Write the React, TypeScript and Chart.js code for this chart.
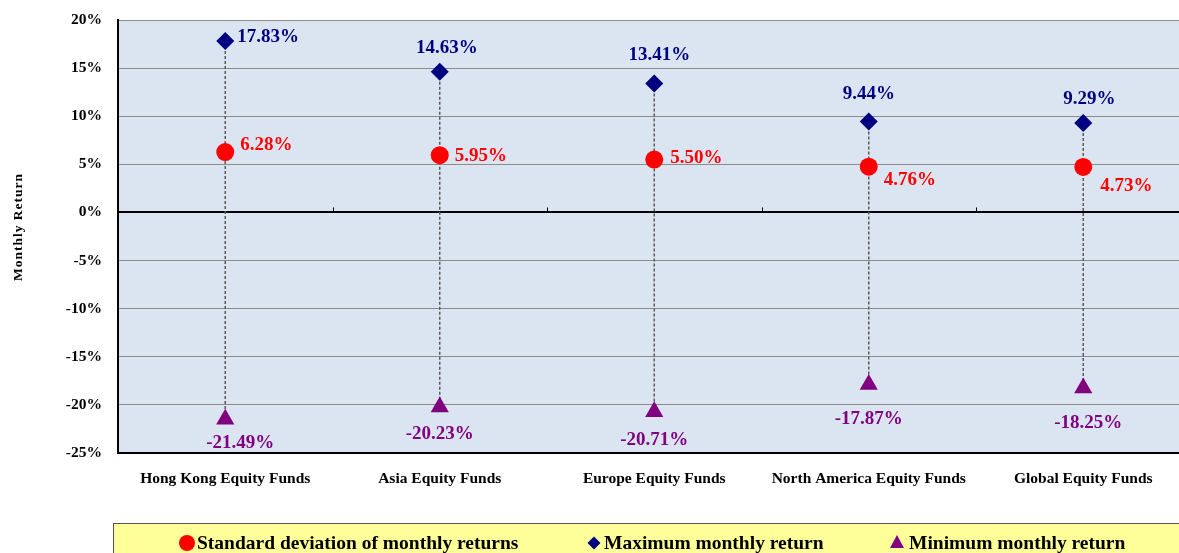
import React, { useEffect, useRef } from "react";
import { Chart, registerables } from "chart.js";

Chart.register(...registerables);

const categories = [
  "Hong Kong Equity Funds",
  "Asia Equity Funds",
  "Europe Equity Funds",
  "North America Equity Funds",
  "Global Equity Funds",
];
const stdDev = [6.28, 5.95, 5.5, 4.76, 4.73];
const maxReturn = [17.83, 14.63, 13.41, 9.44, 9.29];
const minReturn = [-21.49, -20.23, -20.71, -17.87, -18.25];
const yTicks = [-25, -20, -15, -10, -5, 0, 5, 10, 15, 20];

const seriesNames = [
  "Standard deviation of monthly returns",
  "Maximum monthly return",
  "Minimum monthly return",
];

const FONT = "'Liberation Serif', 'Times New Roman', serif";
const RED = "#ff0000";
const NAVY = "#000080";
const PURPLE = "#800080";
const PLOT_BG = "#dbe5f1";

// label placement (dx, dy, align) relative to marker pixel
const stdPlace: [number, number, CanvasTextAlign][] = [
  [15, -7, "left"],
  [15, 1, "left"],
  [16, -1, "left"],
  [15, 13, "left"],
  [17, 19, "left"],
];
const maxPlace: [number, number, CanvasTextAlign][] = [
  [12, -4, "left"],
  [7, -24, "center"],
  [5, -28, "center"],
  [0, -28, "center"],
  [6, -24, "center"],
];
const minPlace: [number, number, CanvasTextAlign][] = [
  [15, 24, "center"],
  [0, 27, "center"],
  [0, 28, "center"],
  [0, 35, "center"],
  [5, 35, "center"],
];

const fmt = (v: number) => v.toFixed(2) + "%";

export default function App() {
  const ref = useRef<HTMLCanvasElement | null>(null);

  useEffect(() => {
    document.body.style.margin = "0";
    document.body.style.overflow = "hidden";
    const canvas = ref.current!;

    const lineData: { x: number; y: number | null }[] = [];
    categories.forEach((_, i) => {
      lineData.push({ x: i, y: maxReturn[i] });
      lineData.push({ x: i, y: minReturn[i] });
      lineData.push({ x: i, y: null });
    });

    const decor = {
      id: "decor",
      beforeDraw(chart: any) {
        const { ctx, chartArea: a } = chart;
        ctx.save();
        ctx.fillStyle = "#ffffff";
        ctx.fillRect(0, 0, chart.width, chart.height);
        ctx.fillStyle = PLOT_BG;
        ctx.fillRect(a.left, a.top, a.right - a.left, a.bottom - a.top);
        ctx.restore();
      },
      afterDatasetsDraw(chart: any) {
        const { ctx } = chart;
        const xs = chart.scales.x;
        const ys = chart.scales.y;
        ctx.save();
        // category boundary ticks on zero line
        const y0 = ys.getPixelForValue(0);
        ctx.strokeStyle = "#000";
        ctx.lineWidth = 1;
        for (let i = 0; i < categories.length; i++) {
          const px = Math.round(xs.getPixelForValue(i + 0.5)) + 0.5;
          ctx.beginPath();
          ctx.moveTo(px, y0 - 5);
          ctx.lineTo(px, y0);
          ctx.stroke();
        }
        // data labels
        ctx.font = `bold 19px ${FONT}`;
        ctx.textBaseline = "middle";
        const drawLabels = (
          vals: number[],
          place: [number, number, CanvasTextAlign][],
          color: string
        ) => {
          ctx.fillStyle = color;
          vals.forEach((v, i) => {
            const px = xs.getPixelForValue(i);
            const py = ys.getPixelForValue(v);
            const [dx, dy, al] = place[i];
            ctx.textAlign = al;
            ctx.fillText(fmt(v), px + dx, py + dy);
          });
        };
        drawLabels(stdDev, stdPlace, RED);
        drawLabels(maxReturn, maxPlace, NAVY);
        drawLabels(minReturn, minPlace, PURPLE);

        // y axis title
        ctx.save();
        ctx.translate(19, 227);
        ctx.rotate(-Math.PI / 2);
        ctx.font = `bold 13.5px ${FONT}`;
        (ctx as any).letterSpacing = "1px";
        ctx.fillStyle = "#000";
        ctx.textAlign = "center";
        ctx.textBaseline = "middle";
        ctx.fillText("Monthly Return", 0, 0);
        ctx.restore();

        // legend box
        ctx.fillStyle = "#ffff99";
        ctx.fillRect(113.5, 523.5, 1200, 60);
        ctx.strokeStyle = "#555";
        ctx.lineWidth = 1;
        ctx.strokeRect(113.5, 523.5, 1200, 60);
        const ly = 543;
        ctx.fillStyle = RED;
        ctx.beginPath();
        ctx.arc(187, ly, 8, 0, Math.PI * 2);
        ctx.fill();
        ctx.fillStyle = NAVY;
        ctx.beginPath();
        ctx.moveTo(594, ly - 6.5);
        ctx.lineTo(600.5, ly);
        ctx.lineTo(594, ly + 6.5);
        ctx.lineTo(587.5, ly);
        ctx.closePath();
        ctx.fill();
        ctx.fillStyle = PURPLE;
        ctx.beginPath();
        ctx.moveTo(897, ly - 8);
        ctx.lineTo(904, ly + 5);
        ctx.lineTo(890, ly + 5);
        ctx.closePath();
        ctx.fill();
        ctx.fillStyle = "#000";
        ctx.font = `bold 19.5px ${FONT}`;
        ctx.textAlign = "left";
        ctx.textBaseline = "alphabetic";
        ctx.fillText(seriesNames[0], 197, 549);
        ctx.fillText(seriesNames[1], 604, 549);
        ctx.fillText(seriesNames[2], 909, 549);
        ctx.restore();
      },
    };

    const chart = new Chart(canvas, {
      type: "scatter",
      data: {
        datasets: [
          {
            type: "line",
            label: "range",
            data: lineData as any,
            borderColor: "#5a5a5a",
            borderWidth: 1.5,
            borderDash: [3, 2],
            pointRadius: 0,
            spanGaps: false,
            showLine: true,
            fill: false,
            order: 10,
          } as any,
          {
            label: seriesNames[2],
            data: minReturn.map((v, i) => ({ x: i, y: v })),
            pointStyle: "triangle",
            pointRadius: 10.5,
            backgroundColor: PURPLE,
            borderColor: PURPLE,
            borderWidth: 0,
            order: 3,
          },
          {
            label: seriesNames[0],
            data: stdDev.map((v, i) => ({ x: i, y: v })),
            pointStyle: "circle",
            pointRadius: 9,
            backgroundColor: RED,
            borderColor: RED,
            borderWidth: 0,
            order: 2,
          },
          {
            label: seriesNames[1],
            data: maxReturn.map((v, i) => ({ x: i, y: v })),
            pointStyle: "rectRot",
            pointRadius: 9,
            backgroundColor: NAVY,
            borderColor: NAVY,
            borderWidth: 0,
            order: 1,
          },
        ],
      },
      options: {
        animation: false,
        responsive: false,
        layout: { autoPadding: false, padding: { top: 20, left: 0, right: 0, bottom: 0 } },
        plugins: {
          legend: { display: false },
          tooltip: { enabled: false },
        },
        scales: {
          x: {
            type: "linear",
            min: -0.5,
            max: -0.5 + 1061 / 214.5,
            afterBuildTicks: (s: any) => {
              s.ticks = categories.map((_, i) => ({ value: i }));
            },
            afterFit: (s: any) => {
              s.height = 100;
              s.paddingLeft = 0;
              s.paddingRight = 0;
            },
            grid: { display: false, drawTicks: false },
            border: { display: true, color: "#000", width: 2 },
            ticks: {
              autoSkip: false,
              maxRotation: 0,
              padding: 17,
              color: "#000",
              font: { family: FONT, size: 15.5, weight: "bold" },
              callback: (v: any) => categories[v as number] ?? "",
            },
          },
          y: {
            type: "linear",
            min: -25,
            max: 20,
            afterBuildTicks: (s: any) => {
              s.ticks = yTicks.map((v) => ({ value: v }));
            },
            afterFit: (s: any) => {
              s.width = 118;
              s.paddingTop = 0;
              s.paddingBottom = 0;
            },
            grid: {
              drawTicks: false,
              color: (c: any) => (c.tick && c.tick.value === 0 ? "#000" : "#8c8c8c"),
              lineWidth: (c: any) => (c.tick && c.tick.value === 0 ? 2 : 1),
            },
            border: { display: true, color: "#000", width: 2 },
            ticks: {
              padding: 16,
              color: "#000",
              font: { family: FONT, size: 15.5, weight: "bold" },
              callback: (v: any) => v + "%",
            },
          },
        },
      },
      plugins: [decor],
    });

    return () => chart.destroy();
  }, []);

  return (
    <div style={{ position: "absolute", left: 0, top: 0, width: 1179, height: 553 }}>
      <canvas ref={ref} width={1179} height={553} />
    </div>
  );
}
